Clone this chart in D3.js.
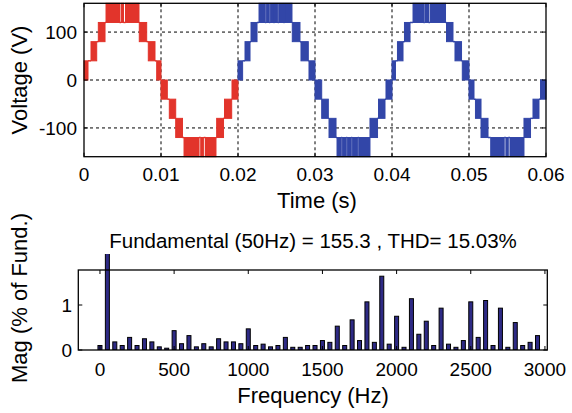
<!DOCTYPE html>
<html>
<head>
<meta charset="utf-8">
<script src="https://cdn.jsdelivr.net/npm/d3@7"></script>
<style>
  html, body { margin: 0; padding: 0; background: #fff; }
  svg { display: block; font-family: "Liberation Sans", Arial, Helvetica, sans-serif; }
</style>
</head>
<body>
<svg id="chart" width="572" height="413"></svg>
<script>
// ---- Output voltage: switching bands [t0 (ms), t1 (ms), low level (V), high level (V)] ----
const firstCycleBands = [
  [0, 0.52, 0, 40], [0.91, 1.65, 40, 80], [1.86, 2.73, 80, 120],
  [2.86, 4.61, 120, 160], [4.81, 5.13, 120, 160], [5.39, 7.14, 120, 160],
  [7.18, 8.14, 80, 120], [8.35, 9.22, 40, 80], [9.44, 10.0, 0, 40],
  [10.0, 10.82, -40, 0], [11.08, 11.91, -80, -40], [11.91, 12.79, -120, -80],
  [12.99, 14.94, -160, -120], [15.16, 15.55, -160, -120], [15.78, 17.14, -160, -120],
  [17.23, 18.12, -120, -80], [18.25, 19.18, -80, -40], [19.22, 20.0, -40, 0]
];
const laterCycleBands = [
  [20.0, 20.6, 0, 40], [20.91, 21.56, 40, 80], [21.69, 22.47, 80, 120],
  [22.73, 23.53, 120, 160], [23.66, 24.05, 120, 160], [24.18, 24.61, 120, 160],
  [24.74, 25.17, 120, 160], [25.3, 25.91, 120, 160], [26.04, 27.01, 120, 160],
  [27.05, 28.05, 80, 120], [28.18, 29.13, 40, 80], [29.22, 30.0, 0, 40],
  [30.0, 30.87, -40, 0], [30.87, 31.73, -80, -40], [31.82, 32.73, -120, -80],
  [32.86, 33.4, -160, -120], [33.53, 34.05, -160, -120], [34.18, 34.7, -160, -120],
  [34.83, 35.56, -160, -120], [35.69, 37.14, -160, -120],
  [37.14, 38.12, -120, -80], [38.25, 39.09, -80, -40], [39.22, 40.0, -40, 0],
  [40.0, 40.45, 0, 40], [40.71, 41.43, 40, 80], [41.62, 42.34, 80, 120],
  [42.73, 44.09, 120, 160], [44.26, 44.74, 120, 160], [44.94, 46.95, 120, 160],
  [47.08, 47.92, 80, 120], [48.18, 49.03, 40, 80], [49.13, 50.0, 0, 40],
  [50.0, 50.65, -40, 0], [50.84, 51.56, -80, -40], [51.56, 52.47, -120, -80],
  [52.82, 54.57, -160, -120], [54.79, 55.1, -160, -120], [55.32, 57.14, -160, -120],
  [57.14, 57.99, -120, -80], [58.31, 59.09, -80, -40], [59.29, 60.0, -40, 0]
];
const timeTicks = [0, 0.01, 0.02, 0.03, 0.04, 0.05, 0.06];
const timeTickLabels = ["0", "0.01", "0.02", "0.03", "0.04", "0.05", "0.06"];
const voltTicks = [-100, 0, 100];

// ---- FFT spectrum ----
const harmonicHz = [
  0, 50, 100, 150, 200, 250, 300, 350, 400, 450,
  500, 550, 600, 650, 700, 750, 800, 850, 900, 950,
  1000, 1050, 1100, 1150, 1200, 1250, 1300, 1350, 1400, 1450,
  1500, 1550, 1600, 1650, 1700, 1750, 1800, 1850, 1900, 1950,
  2000, 2050, 2100, 2150, 2200, 2250, 2300, 2350, 2400, 2450,
  2500, 2550, 2600, 2650, 2700, 2750, 2800, 2850, 2900, 2950
];
const harmonicMag = [
  0.10, 100, 0.18, 0.10, 0.28, 0.10, 0.25, 0.18, 0.07, 0.04,
  0.43, 0.14, 0.32, 0.07, 0.14, 0.07, 0.25, 0.18, 0.18, 0.14,
  0.47, 0.10, 0.13, 0.07, 0.10, 0.28, 0.06, 0.06, 0.10, 0.10,
  0.21, 0.17, 0.53, 0.10, 0.67, 0.21, 1.07, 0.17, 1.64, 0.13,
  0.75, 0.06, 1.14, 0.35, 0.64, 0.10, 0.93, 0.13, 0.06, 0.21,
  1.07, 0.28, 1.10, 0.10, 0.93, 0.06, 0.61, 0.10, 0.17, 0.32
];
const freqTicks = [0, 500, 1000, 1500, 2000, 2500, 3000];
const magTicks = [0, 1];
const spectrumTitle = "Fundamental (50Hz) = 155.3 , THD= 15.03%";

const svg = d3.select("#chart");
svg.append("rect").attr("width", 572).attr("height", 413).attr("fill", "#fff");

const TICK = 4;
const FONT_TICK = 19;
const FONT_LABEL = 22;

// ================= Voltage plot =================
const x1 = d3.scaleLinear().domain([0, 0.06]).range([84, 546]);
const y1 = d3.scaleLinear().domain([-160, 160]).range([156.7, 3.3]);
const voltG = svg.append("g");

// dotted grid
voltG.append("g").selectAll("line").data(timeTicks.slice(1, -1)).join("line")
  .attr("x1", d => x1(d)).attr("x2", d => x1(d))
  .attr("y1", y1(160)).attr("y2", y1(-160))
  .attr("stroke", "#000").attr("stroke-width", 1).attr("stroke-dasharray", "3,3");
voltG.append("g").selectAll("line").data(voltTicks).join("line")
  .attr("x1", x1(0)).attr("x2", x1(0.06))
  .attr("y1", d => y1(d)).attr("y2", d => y1(d))
  .attr("stroke", "#000").attr("stroke-width", 1).attr("stroke-dasharray", "3,3");

function sharedLevel(a, b) {
  const c = [a[2], a[3]].filter(v => v >= b[2] && v <= b[3]);
  return c.sort((p, q) => Math.abs(p) - Math.abs(q))[0];
}

function drawWave(bands, color) {
  const g = voltG.append("g");
  // flat steps between switching bands
  const segs = [];
  for (let i = 0; i < bands.length - 1; i++) {
    const lv = sharedLevel(bands[i], bands[i + 1]);
    segs.push([bands[i][1], bands[i + 1][0], lv]);
  }
  g.selectAll("line").data(segs).join("line")
    .attr("x1", d => x1(d[0] / 1000)).attr("x2", d => x1(d[1] / 1000))
    .attr("y1", d => y1(d[2])).attr("y2", d => y1(d[2]))
    .attr("stroke", color).attr("stroke-width", 1.5);
  // PWM switching bands
  g.selectAll("rect").data(bands).join("rect")
    .attr("x", d => x1(d[0] / 1000))
    .attr("width", d => Math.max(0.5, x1(d[1] / 1000) - x1(d[0] / 1000)))
    .attr("y", d => y1(d[3]))
    .attr("height", d => y1(d[2]) - y1(d[3]))
    .attr("fill", color).attr("stroke", color).attr("stroke-width", 1);
}
drawWave(firstCycleBands, "#e2342b");
drawWave(laterCycleBands, "#3246a8");

// ticks (inside, all four sides)
const tk = voltG.append("g").attr("stroke", "#000").attr("stroke-width", 1);
timeTicks.forEach(t => {
  tk.append("line").attr("x1", x1(t)).attr("x2", x1(t)).attr("y1", y1(-160)).attr("y2", y1(-160) - TICK);
  tk.append("line").attr("x1", x1(t)).attr("x2", x1(t)).attr("y1", y1(160)).attr("y2", y1(160) + TICK);
});
voltTicks.forEach(v => {
  tk.append("line").attr("x1", x1(0)).attr("x2", x1(0) + TICK).attr("y1", y1(v)).attr("y2", y1(v));
  tk.append("line").attr("x1", x1(0.06)).attr("x2", x1(0.06) - TICK).attr("y1", y1(v)).attr("y2", y1(v));
});
voltG.append("rect")
  .attr("x", x1(0)).attr("y", y1(160))
  .attr("width", x1(0.06) - x1(0)).attr("height", y1(-160) - y1(160))
  .attr("fill", "none").attr("stroke", "#000").attr("stroke-width", 1.3);

voltG.append("g").selectAll("text").data(timeTicks).join("text")
  .attr("x", d => x1(d)).attr("y", 181)
  .attr("text-anchor", "middle").attr("font-size", FONT_TICK)
  .text((d, i) => timeTickLabels[i]);
voltG.append("g").selectAll("text").data(voltTicks).join("text")
  .attr("x", 77).attr("y", d => y1(d)).attr("dy", "0.35em")
  .attr("text-anchor", "end").attr("font-size", FONT_TICK)
  .text(d => d);
voltG.append("text").attr("x", 317).attr("y", 208)
  .attr("text-anchor", "middle").attr("font-size", FONT_LABEL).text("Time (s)");
voltG.append("text").attr("transform", "translate(27,80) rotate(-90)")
  .attr("text-anchor", "middle").attr("font-size", FONT_LABEL).text("Voltage (V)");

// ================= Spectrum plot =================
const x2 = d3.scaleLinear().domain([-146, 3016]).range([78.3, 547.3]);
const y2 = d3.scaleLinear().domain([0, 1.778]).range([350, 270]);
const specG = svg.append("g");

specG.append("defs").append("clipPath").attr("id", "barclip")
  .append("rect").attr("x", x2(-146)).attr("y", 254)
  .attr("width", x2(3016) - x2(-146)).attr("height", 350 - 254);

const barW = x2(27) - x2(0);
specG.append("g").attr("clip-path", "url(#barclip)")
  .selectAll("rect").data(harmonicHz).join("rect")
  .attr("x", d => x2(d) - barW / 2).attr("width", barW)
  .attr("y", (d, i) => y2(harmonicMag[i]))
  .attr("height", (d, i) => y2(0) - y2(harmonicMag[i]))
  .attr("fill", "#2e2a85").attr("stroke", "#000").attr("stroke-width", 1);

const tk2 = specG.append("g").attr("stroke", "#000").attr("stroke-width", 1);
freqTicks.forEach(f => {
  tk2.append("line").attr("x1", x2(f)).attr("x2", x2(f)).attr("y1", y2(0)).attr("y2", y2(0) - TICK);
  tk2.append("line").attr("x1", x2(f)).attr("x2", x2(f)).attr("y1", y2(1.778)).attr("y2", y2(1.778) + TICK);
});
magTicks.forEach(m => {
  tk2.append("line").attr("x1", x2(-146)).attr("x2", x2(-146) + TICK).attr("y1", y2(m)).attr("y2", y2(m));
  tk2.append("line").attr("x1", x2(3016)).attr("x2", x2(3016) - TICK).attr("y1", y2(m)).attr("y2", y2(m));
});
specG.append("rect")
  .attr("x", x2(-146)).attr("y", y2(1.778))
  .attr("width", x2(3016) - x2(-146)).attr("height", y2(0) - y2(1.778))
  .attr("fill", "none").attr("stroke", "#000").attr("stroke-width", 1.3);

specG.append("g").selectAll("text").data(freqTicks).join("text")
  .attr("x", d => x2(d)).attr("y", 376)
  .attr("text-anchor", "middle").attr("font-size", FONT_TICK).text(d => d);
specG.append("g").selectAll("text").data(magTicks).join("text")
  .attr("x", 72).attr("y", d => y2(d)).attr("dy", "0.35em")
  .attr("text-anchor", "end").attr("font-size", FONT_TICK).text(d => d);
specG.append("text").attr("x", 313).attr("y", 248)
  .attr("text-anchor", "middle").attr("font-size", 20.5).text(spectrumTitle);
specG.append("text").attr("x", 313).attr("y", 403)
  .attr("text-anchor", "middle").attr("font-size", FONT_LABEL).text("Frequency (Hz)");
specG.append("text").attr("transform", "translate(27,298) rotate(-90)")
  .attr("text-anchor", "middle").attr("font-size", FONT_LABEL).text("Mag (% of Fund.)");
</script>
</body>
</html>
